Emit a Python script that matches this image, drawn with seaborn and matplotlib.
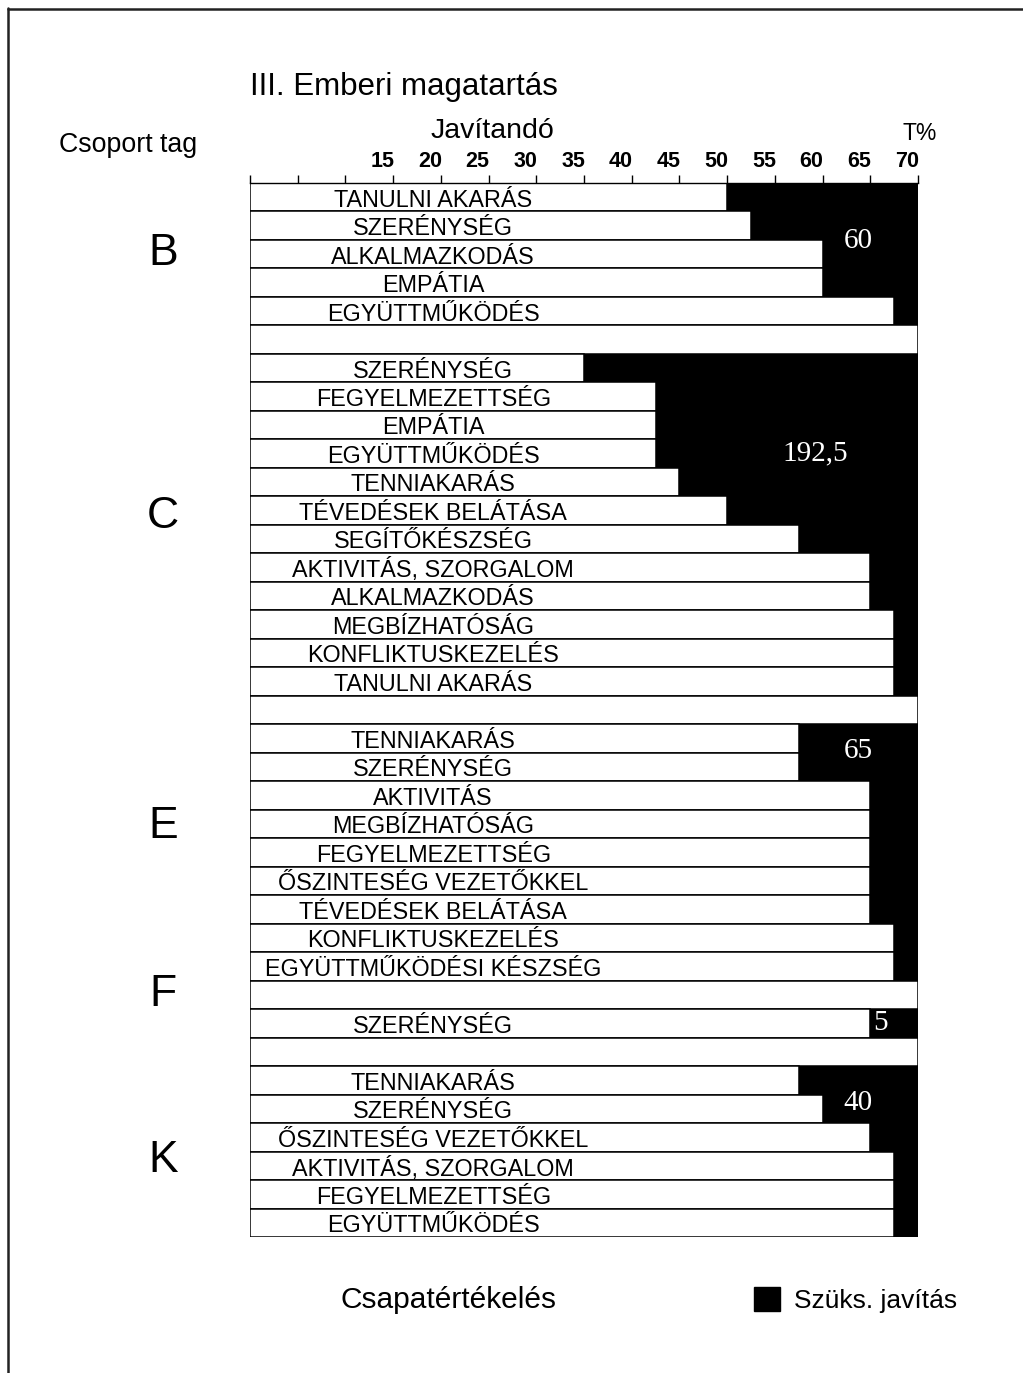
import matplotlib
matplotlib.use("Agg")
import matplotlib.pyplot as plt
import matplotlib.transforms as mtransforms
from matplotlib.lines import Line2D
from matplotlib.patches import Patch
import pandas as pd
import seaborn as sns

# --- data ---
groups = ["B", "C", "E", "F", "K"]
group_items = [
    ["TANULNI AKARÁS", "SZERÉNYSÉG", "ALKALMAZKODÁS", "EMPÁTIA", "EGYÜTTMŰKÖDÉS"],
    ["SZERÉNYSÉG", "FEGYELMEZETTSÉG", "EMPÁTIA", "EGYÜTTMŰKÖDÉS", "TENNIAKARÁS",
     "TÉVEDÉSEK BELÁTÁSA", "SEGÍTŐKÉSZSÉG", "AKTIVITÁS, SZORGALOM", "ALKALMAZKODÁS",
     "MEGBÍZHATÓSÁG", "KONFLIKTUSKEZELÉS", "TANULNI AKARÁS"],
    ["TENNIAKARÁS", "SZERÉNYSÉG", "AKTIVITÁS", "MEGBÍZHATÓSÁG", "FEGYELMEZETTSÉG",
     "ŐSZINTESÉG VEZETŐKKEL", "TÉVEDÉSEK BELÁTÁSA", "KONFLIKTUSKEZELÉS",
     "EGYÜTTMŰKÖDÉSI KÉSZSÉG"],
    ["SZERÉNYSÉG"],
    ["TENNIAKARÁS", "SZERÉNYSÉG", "ŐSZINTESÉG VEZETŐKKEL", "AKTIVITÁS, SZORGALOM",
     "FEGYELMEZETTSÉG", "EGYÜTTMŰKÖDÉS"],
]
group_scores = [
    [50, 52.5, 60, 60, 67.5],
    [35, 42.5, 42.5, 42.5, 45, 50, 57.5, 65, 65, 67.5, 67.5, 67.5],
    [57.5, 57.5, 65, 65, 65, 65, 65, 67.5, 67.5],
    [65],
    [57.5, 60, 65, 67.5, 67.5, 67.5],
]
group_totals = ["60", "192,5", "65", "5", "40"]
full_scale = 70
tick_values = list(range(0, 75, 5))
tick_labels = ["", "", ""] + [str(v) for v in range(15, 75, 5)]

# --- build rows (blank separator row between groups) ---
labels, scores = [], []
for gi, (items, vals) in enumerate(zip(group_items, group_scores)):
    if gi > 0:
        labels.append("")
        scores.append(full_scale)
    labels.extend(items)
    scores.extend(vals)
df = pd.DataFrame({"row": range(len(labels)), "label": labels, "score": scores})
df["full"] = full_scale

# layout (pixel-derived) positions
letter_rows = [1.96, 11.2, 22.1, 28.0, 33.8]
total_pos = [(63.7, 1.55), (59.2, 9.0), (63.7, 19.45), (66.1, 29.0), (63.7, 31.8)]
label_x = 19.2

sns.set_style("white")
plt.rcParams["font.family"] = ["Liberation Sans", "DejaVu Sans"]
plt.rcParams["text.color"] = "black"
plt.rcParams["xtick.color"] = "black"
plt.rcParams["xtick.labelcolor"] = "black"

W, H = 1023, 1373
fig = plt.figure(figsize=(W / 100, H / 100), dpi=100)
ax = fig.add_axes([250 / W, 1 - 1237 / H, (918 - 250) / W, (1237 - 183) / H])

sns.barplot(data=df, x="full", y="row", orient="h", color="black", saturation=1,
            width=1.0, errorbar=None, linewidth=0, ax=ax)
sns.barplot(data=df, x="score", y="row", orient="h", color="white", saturation=1,
            width=1.0, errorbar=None, edgecolor="black", linewidth=1.1, ax=ax)

ax.set_xlim(0, full_scale)
ax.set_ylim(len(df) - 0.5, -0.5)
ax.set_xlabel("")
ax.set_ylabel("")
ax.set_yticks([])
ax.xaxis.tick_top()
ax.set_xticks(tick_values)
ax.set_xticklabels(tick_labels, fontsize=15.5, fontweight="bold")
ax.tick_params(axis="x", direction="out", length=6, width=1, pad=2, color="black")
shift = mtransforms.ScaledTranslation(-0.11, 0, fig.dpi_scale_trans)
for t in ax.get_xticklabels():
    t.set_transform(t.get_transform() + shift)
for side in ["left", "right", "bottom"]:
    ax.spines[side].set_visible(False)
ax.spines["top"].set_linewidth(1)
ax.spines["top"].set_color("black")

# row labels
for r, lab in zip(df["row"], df["label"]):
    if lab:
        ax.text(label_x, r + 0.1, lab, ha="center", va="center", fontsize=16.8)

# group letters
blend = mtransforms.blended_transform_factory(fig.transFigure, ax.transData)
for g, yr in zip(groups, letter_rows):
    ax.text(163 / W, yr, g, transform=blend, ha="center", va="center",
            fontsize=32, clip_on=False)

# totals in the black region
for txt, (xv, yv) in zip(group_totals, total_pos):
    ax.text(xv, yv, txt, ha="center", va="center", color="white", fontsize=21,
            family="Liberation Serif")

# headings
fig.text(250 / W, 1 - 87 / H, "III. Emberi magatartás", ha="left", va="center", fontsize=22.5)
fig.text(492 / W, 1 - 131 / H, "Javítandó", ha="center", va="center", fontsize=20.5)
fig.text(128 / W, 1 - 145 / H, "Csoport tag", ha="center", va="center", fontsize=19.3)
fig.text(920 / W, 1 - 133 / H, "T%", ha="center", va="center", fontsize=16.5)
fig.text(448 / W, 1 - 1300 / H, "Csapatértékelés", ha="center", va="center", fontsize=21.5)

# legend
fig.legend(handles=[Patch(facecolor="black", edgecolor="black")], labels=["Szüks. javítás"],
           loc="center left", bbox_to_anchor=(754 / W, 1 - 1300 / H), frameon=False,
           fontsize=19, handlelength=1.0, handleheight=1.0, handletextpad=0.5,
           borderpad=0, borderaxespad=0)

# outer frame lines
fig.add_artist(Line2D([8 / W, 8 / W], [0, 1 - 8 / H], transform=fig.transFigure,
                      color="#222222", lw=1.8))
fig.add_artist(Line2D([8 / W, 1], [1 - 9 / H, 1 - 9 / H], transform=fig.transFigure,
                      color="#222222", lw=1.8))

fig.savefig("out.png", dpi=100, facecolor="white")
